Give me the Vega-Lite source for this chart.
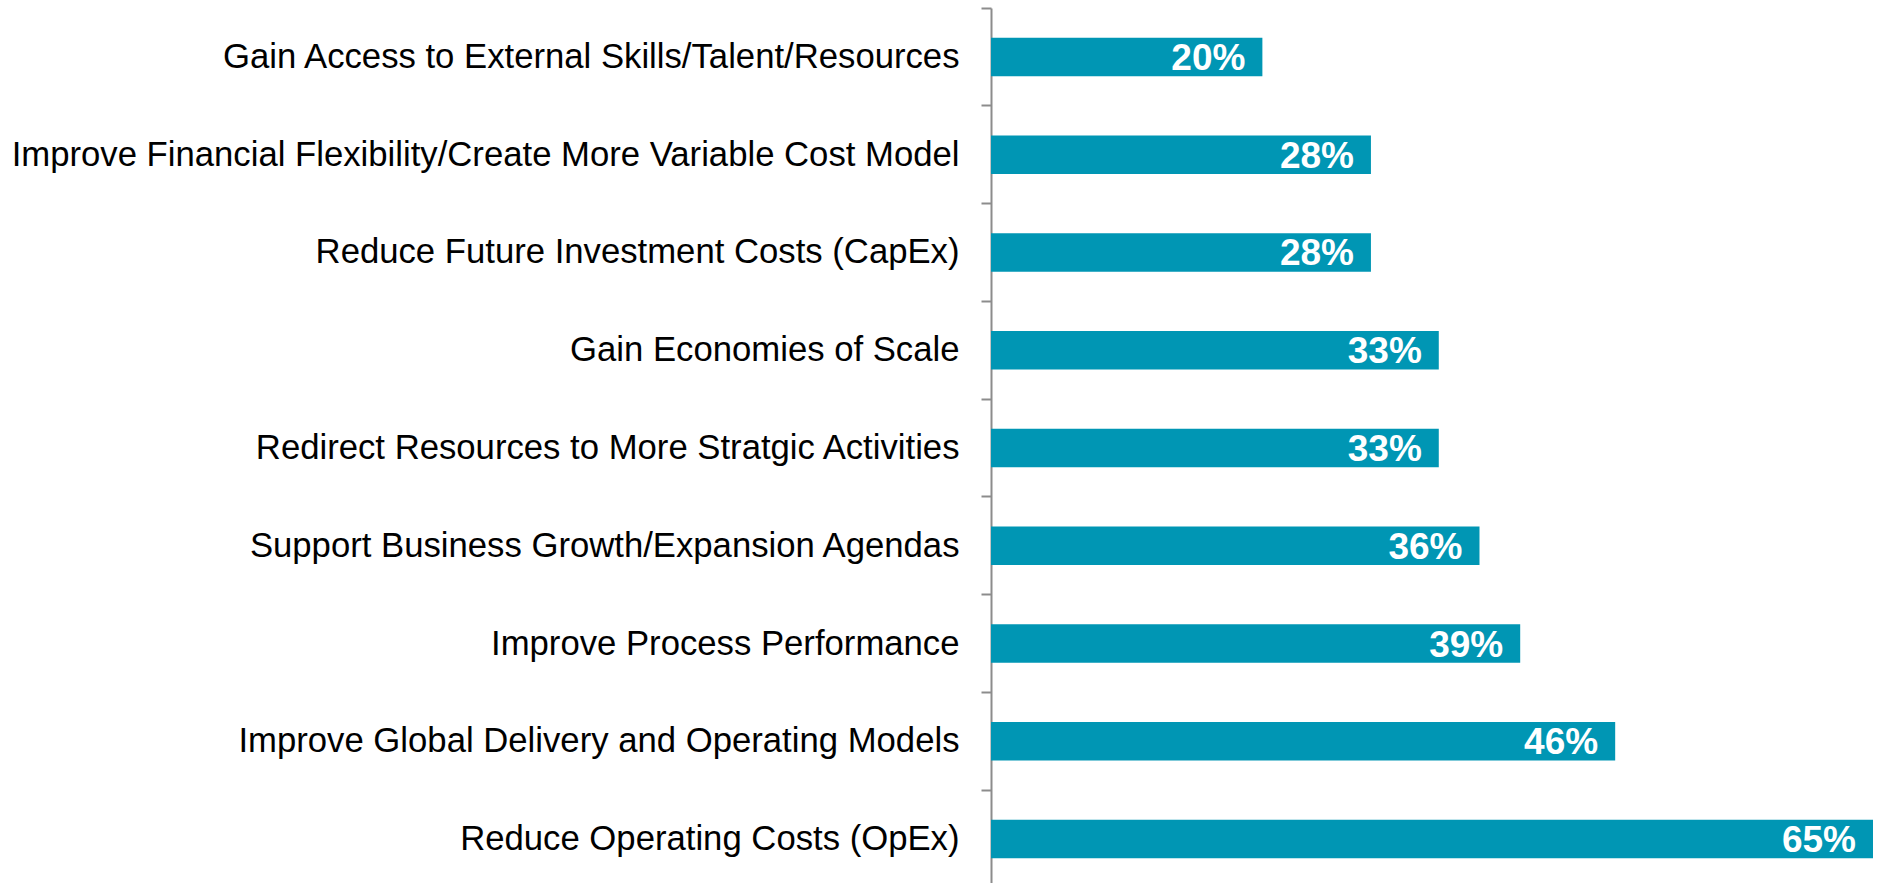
{
  "$schema": "https://vega.github.io/schema/vega-lite/v6.json",
  "width": 882,
  "height": 880,
  "autosize": "none",
  "padding": {"left": 991, "top": 8, "right": 6, "bottom": 0},
  "background": "white",
  "config": {"view": {"stroke": null}},
  "data": {
    "values": [
      {"reason": "Gain Access to External Skills/Talent/Resources", "pct": 0.20},
      {"reason": "Improve Financial Flexibility/Create More Variable Cost Model", "pct": 0.28},
      {"reason": "Reduce Future Investment Costs (CapEx)", "pct": 0.28},
      {"reason": "Gain Economies of Scale", "pct": 0.33},
      {"reason": "Redirect Resources to More Stratgic Activities", "pct": 0.33},
      {"reason": "Support Business Growth/Expansion Agendas", "pct": 0.36},
      {"reason": "Improve Process Performance", "pct": 0.39},
      {"reason": "Improve Global Delivery and Operating Models", "pct": 0.46},
      {"reason": "Reduce Operating Costs (OpEx)", "pct": 0.65}
    ]
  },
  "encoding": {
    "y": {
      "field": "reason",
      "type": "nominal",
      "sort": null,
      "scale": {"paddingInner": 0, "paddingOuter": 0},
      "axis": {
        "title": null,
        "bandPosition": 0,
        "domainColor": "#8c8c8c",
        "domainWidth": 2,
        "tickColor": "#8c8c8c",
        "tickWidth": 2,
        "tickSize": 10,
        "labelFont": "Liberation Sans",
        "labelFontSize": 34.7,
        "labelColor": "#000000",
        "labelPadding": 22,
        "labelOffset": 1,
        "labelLimit": 1200
      }
    },
    "x": {
      "field": "pct",
      "type": "quantitative",
      "scale": {"domain": [0, 0.65]},
      "axis": null
    }
  },
  "layer": [
    {
      "mark": {"type": "bar", "color": "#0096B4", "height": {"band": 0.394}}
    },
    {
      "mark": {
        "type": "text",
        "align": "right",
        "baseline": "middle",
        "dx": -17,
        "dy": 2,
        "color": "#ffffff",
        "font": "Liberation Sans",
        "fontWeight": "bold",
        "fontSize": 37
      },
      "encoding": {
        "text": {"field": "pct", "type": "quantitative", "format": ".0%"}
      }
    }
  ]
}
